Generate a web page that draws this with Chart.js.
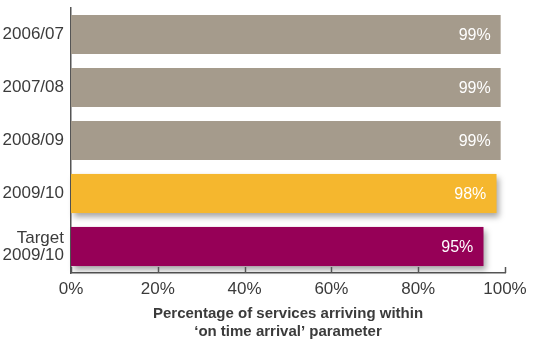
<!DOCTYPE html>
<html>
<head>
<meta charset="utf-8">
<script src="https://cdn.jsdelivr.net/npm/chart.js@4/dist/chart.umd.min.js"></script>
<style>
  html, body { margin: 0; padding: 0; background: #fff; }
  #wrap { width: 540px; height: 349px; position: relative; }
</style>
</head>
<body>
<div id="wrap"><canvas id="chart"></canvas></div>
<script>
// punctuality by year
const categories = ['2006/07', '2007/08', '2008/09', '2009/10', ['Target', '2009/10']];
const values = [99, 99, 99, 98, 95];
const barColors = ['#a59b8c', '#a59b8c', '#a59b8c', '#f5b72e', '#960057'];
const shadowed = [false, false, false, true, true];
const xTicks = [0, 20, 40, 60, 80, 100];
const axisTitle = ['Percentage of services arriving within', '\u2018on time arrival\u2019 parameter'];

const FONT = '"Liberation Sans", Arial, sans-serif';
const TEXT = '#3b3b3b';
const AXIS = '#555555';

// soft drop shadow behind the highlighted bars
const barShadow = {
    id: 'barShadow',
    beforeDatasetsDraw(chart) {
        const ctx = chart.ctx;
        const meta = chart.getDatasetMeta(0);
        meta.data.forEach((bar, i) => {
            if (!shadowed[i]) return;
            ctx.save();
            ctx.shadowColor = 'rgba(0,0,0,0.35)';
            ctx.shadowBlur = 6;
            ctx.shadowOffsetX = 3;
            ctx.shadowOffsetY = 4;
            ctx.fillStyle = barColors[i];
            ctx.fillRect(bar.base, bar.y - bar.height / 2, bar.x - bar.base, bar.height);
            ctx.restore();
        });
    }
};

// value labels inside the bar ends + upward tick marks on the x axis
const labelsAndTicks = {
    id: 'labelsAndTicks',
    afterDatasetsDraw(chart) {
        const ctx = chart.ctx;
        const meta = chart.getDatasetMeta(0);
        ctx.save();
        ctx.font = '16px ' + FONT;
        ctx.fillStyle = '#ffffff';
        ctx.textAlign = 'right';
        ctx.textBaseline = 'middle';
        meta.data.forEach((bar, i) => {
            ctx.fillText(values[i] + '%', bar.x - 10, bar.y + 1);
        });
        ctx.restore();

        const xs = chart.scales.x;
        const bottom = chart.chartArea.bottom;
        ctx.save();
        ctx.strokeStyle = AXIS;
        ctx.lineWidth = 1.5;
        xTicks.forEach(v => {
            const px = Math.round(xs.getPixelForValue(v)) + 0.5;
            ctx.beginPath();
            ctx.moveTo(px, bottom - 6);
            ctx.lineTo(px, bottom);
            ctx.stroke();
        });
        ctx.restore();
    }
};

new Chart(document.getElementById('chart'), {
    type: 'bar',
    data: {
        labels: categories,
        datasets: [{
            data: values,
            backgroundColor: barColors,
            borderWidth: 0,
            barPercentage: 0.82,
            categoryPercentage: 0.9
        }]
    },
    options: {
        indexAxis: 'y',
        responsive: true,
        maintainAspectRatio: false,
        animation: false,
        layout: { padding: { top: 8, right: 35, left: 0, bottom: 0 } },
        plugins: {
            legend: { display: false },
            tooltip: { enabled: false }
        },
        scales: {
            x: {
                min: 0,
                max: 100,
                afterBuildTicks: scale => { scale.ticks = xTicks.map(v => ({ value: v })); },
                afterFit: scale => {
                    scale.height = 76;
                    scale.paddingLeft = 0;
                    scale.paddingRight = 0;
                },
                grid: { display: false, drawTicks: false },
                border: { display: true, color: AXIS, width: 1.5 },
                ticks: {
                    padding: 6,
                    color: TEXT,
                    font: { family: FONT, size: 17 },
                    callback: v => v + '%'
                },
                title: {
                    display: true,
                    text: axisTitle,
                    color: TEXT,
                    font: { family: FONT, size: 15, weight: 'bold', lineHeight: 1.2 },
                    padding: { top: 6, bottom: 8 }
                }
            },
            y: {
                afterFit: scale => {
                    scale.width = 71;
                    scale.paddingTop = 0;
                    scale.paddingBottom = 0;
                },
                grid: { display: false, drawTicks: false },
                border: { display: true, color: AXIS, width: 1.5 },
                ticks: {
                    padding: 7,
                    color: TEXT,
                    font: { family: FONT, size: 17, lineHeight: 1.0 }
                }
            }
        }
    },
    plugins: [barShadow, labelsAndTicks]
});
</script>
</body>
</html>
